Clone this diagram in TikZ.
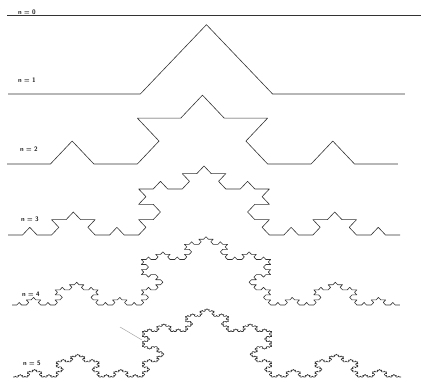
\documentclass[tikz,border=0pt]{standalone}
\usepackage{tikz}
\usetikzlibrary{lindenmayersystems}

\pgfdeclarelindenmayersystem{koch}{
	\rule{F -> F+F--F+F}
}

\tikzset{
	kochline/.style={
			draw=black!80,
			line width=0.6pt,
			line join=round
		},
	rowlabel/.style={
			font=\sffamily\bfseries\fontsize{6.5}{6.5}\selectfont,
			text=black!90,
			inner sep=0pt
		},
	pointerline/.style={
			draw=gray!70,
			line width=0.5pt
		}
}

\begin{document}
\begin{tikzpicture}[x=1pt,y=1pt]
  \useasboundingbox (0,0) rectangle (422,381);

  % row labels
  \node[rowlabel] (l0) at (27,369) {n = 0};
  \node[rowlabel] (l1) at (27,301) {n = 1};
  \node[rowlabel] (l2) at (29,232) {n = 2};
  \node[rowlabel] (l3) at (30,162) {n = 3};
  \node[rowlabel] (l4) at (31,87) {n = 4};
  \node[rowlabel] (l5) at (32,18) {n = 5};

  % n = 0
  \draw[kochline] (7,365.5) -- (421,365.5);

  % n = 1 .. 5
  \begin{scope}[shift={(8,287)}, yscale=0.605]
    \draw[kochline, l-system={koch, axiom=F, order=1, step=132.3pt, angle=60}] (0,0) lindenmayer system;
  \end{scope}
  \begin{scope}[shift={(7,217)}, yscale=0.61]
    \draw[kochline, l-system={koch, axiom=F, order=2, step=43.44pt, angle=60}] (0,0) lindenmayer system;
  \end{scope}
  \begin{scope}[shift={(8,146)}, yscale=0.61]
    \draw[kochline, l-system={koch, axiom=F, order=3, step=14.52pt, angle=60}] (0,0) lindenmayer system;
  \end{scope}
  \begin{scope}[shift={(12,76)}, yscale=0.61]
    \draw[kochline, l-system={koch, axiom=F, order=4, step=4.79pt, angle=60}] (0,0) lindenmayer system;
  \end{scope}
  \begin{scope}[shift={(13,4)}, yscale=0.61]
    \draw[kochline, l-system={koch, axiom=F, order=5, step=1.597pt, angle=60}] (0,0) lindenmayer system;
  \end{scope}

  % stray pointer
  \coordinate (ptra) at (120,54);
  \coordinate (ptrb) at (142,41);
  \draw[pointerline] (ptra) -- (ptrb);

\end{tikzpicture}
\end{document}
